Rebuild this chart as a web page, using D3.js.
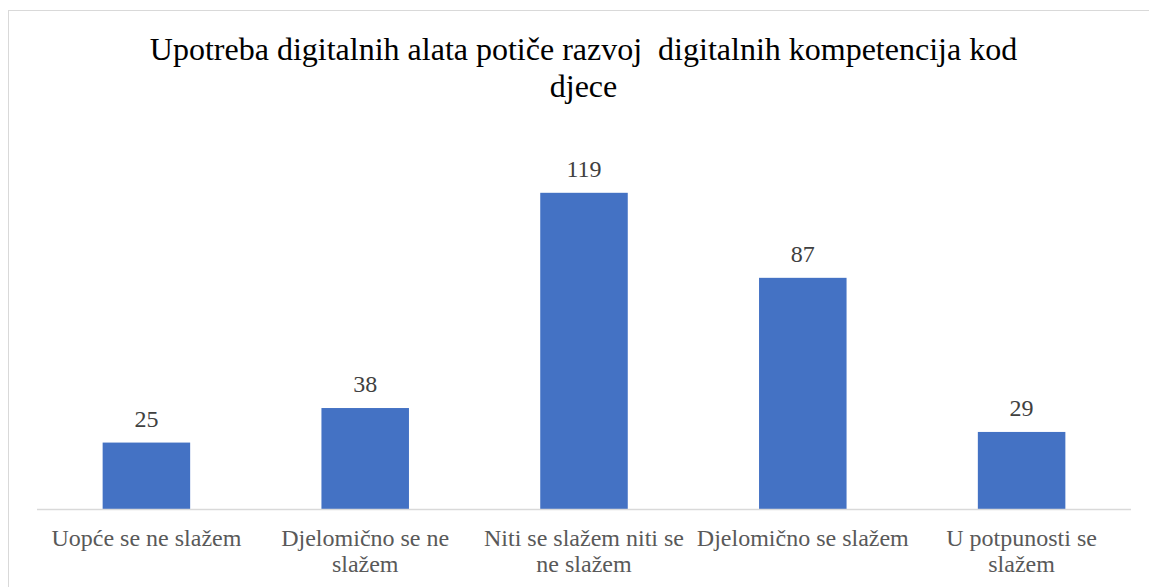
<!DOCTYPE html>
<html>
<head>
<meta charset="utf-8">
<script src="https://cdn.jsdelivr.net/npm/d3@7"></script>
<style>
  body { margin: 0; background: #fff; }
  svg { display: block; }
  .title { font-family: "Liberation Serif", "Times New Roman", serif; font-size: 32px; fill: #000; }
  .val { font-family: "Liberation Serif", "Times New Roman", serif; font-size: 24px; fill: #404040; }
  .cat { font-family: "Liberation Serif", "Times New Roman", serif; font-size: 24px; fill: #595959; }
</style>
</head>
<body>
<div id="vis"></div>
<script>
var titleLines = ['Upotreba digitalnih alata potiče razvoj  digitalnih kompetencija kod', 'djece'];
var categories = ['Uopće se ne slažem', 'Djelomično se ne slažem', 'Niti se slažem niti se ne slažem', 'Djelomično se slažem', 'U potpunosti se slažem'];
var values = [25, 38, 119, 87, 29];

var width = 1149;
var height = 587;

var svg = d3.select('#vis')
  .append('svg')
  .attr('width', width)
  .attr('height', height);

// chart frame, runs off the right and bottom edges
svg.append('rect')
  .attr('x', 8.5)
  .attr('y', 10.5)
  .attr('width', 1160)
  .attr('height', 600)
  .attr('fill', '#fff')
  .attr('stroke', '#d9d9d9')
  .attr('stroke-width', 1);

var x = d3.scaleBand()
  .domain(categories)
  .range([37, 1131])
  .paddingInner(0.6)
  .paddingOuter(0.3);

var y = d3.scaleLinear()
  .domain([0, 140])
  .range([509, 137]);

svg.selectAll('.title')
  .data(titleLines)
  .enter().append('text')
  .attr('class', 'title')
  .attr('x', 583.5)
  .attr('y', function (d, i) { return 60 + i * 37; })
  .attr('text-anchor', 'middle')
  .style('white-space', 'pre')
  .text(function (d) { return d; });

svg.selectAll('.bar')
  .data(values)
  .enter().append('rect')
  .attr('class', 'bar')
  .attr('x', function (d, i) { return x(categories[i]); })
  .attr('y', function (d) { return y(d); })
  .attr('width', x.bandwidth())
  .attr('height', function (d) { return y(0) - y(d); })
  .attr('fill', '#4472c4');

svg.selectAll('.val')
  .data(values)
  .enter().append('text')
  .attr('class', 'val')
  .attr('x', function (d, i) { return x(categories[i]) + x.bandwidth() / 2; })
  .attr('y', function (d) { return y(d) - 16; })
  .attr('text-anchor', 'middle')
  .text(function (d) { return d; });

// baseline
svg.append('line')
  .attr('x1', 37)
  .attr('x2', 1131)
  .attr('y1', y(0) + 0.5)
  .attr('y2', y(0) + 0.5)
  .attr('stroke', '#d9d9d9')
  .attr('stroke-width', 1.5);

// category labels, wrapped to the band step
var maxW = x.step() - 3;
categories.forEach(function (c) {
  var cx = x(c) + x.bandwidth() / 2;
  var t = svg.append('text')
    .attr('class', 'cat')
    .attr('text-anchor', 'middle')
    .attr('x', cx)
    .attr('y', 546);
  var words = c.split(' ');
  var line = [];
  var tspan = t.append('tspan').attr('x', cx).attr('dy', 0);
  words.forEach(function (w) {
    line.push(w);
    tspan.text(line.join(' '));
    if (tspan.node().getComputedTextLength() > maxW && line.length > 1) {
      line.pop();
      tspan.text(line.join(' '));
      line = [w];
      tspan = t.append('tspan').attr('x', cx).attr('dy', 26).text(w);
    }
  });
});
</script>
</body>
</html>
